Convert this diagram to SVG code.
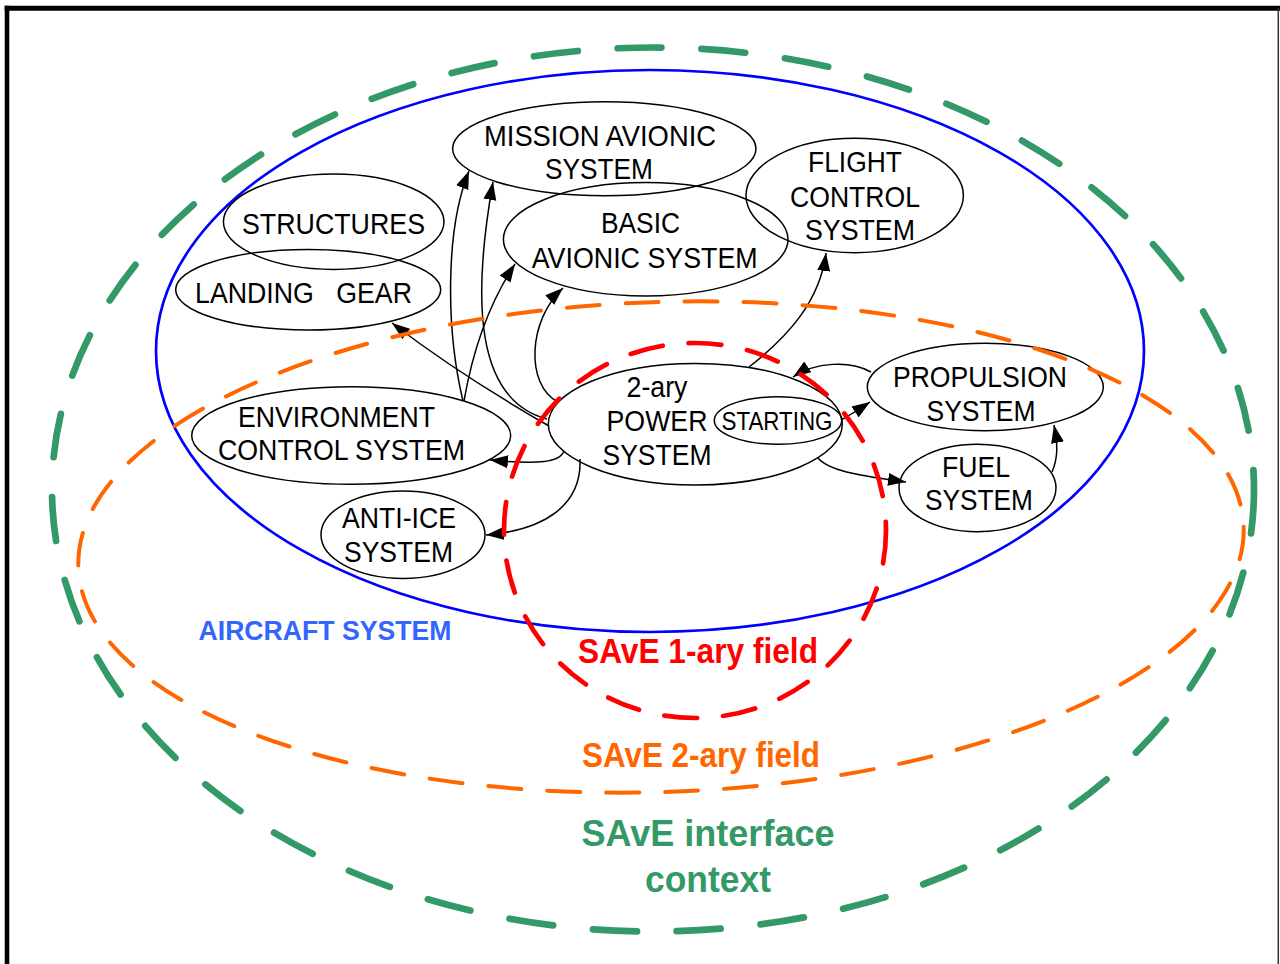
<svg xmlns="http://www.w3.org/2000/svg" width="1280" height="964" viewBox="0 0 1280 964">
<defs>
<style>
.node{fill:none;stroke:#000;stroke-width:1.5}
.t{font-family:"Liberation Sans",Arial,sans-serif;font-size:29px;fill:#000;text-anchor:middle}
.ts{font-size:25.5px}
.lbl{font-family:"Liberation Sans",Arial,sans-serif;font-weight:bold;text-anchor:middle}
.conn path{fill:none;stroke:#000;stroke-width:1.5;marker-end:url(#arr)}
.region{fill:none;stroke-linecap:round}
</style>
<marker id="arr" markerUnits="userSpaceOnUse" markerWidth="19" markerHeight="14" refX="18" refY="6.5" orient="auto">
<path d="M0,0 L18,6.5 L0,13 z" fill="#000"/>
</marker>
</defs>
<rect width="1280" height="964" fill="#fff"/>
<g id="frame" stroke-linecap="butt">
<line x1="4.7" y1="8.2" x2="1280" y2="8.2" stroke="#000" stroke-width="5"/>
<line x1="7" y1="5.7" x2="7" y2="964" stroke="#000" stroke-width="4.6"/>
<line x1="1278.3" y1="8" x2="1278.3" y2="964" stroke="#333" stroke-width="1.5"/>
</g>
<g id="aircraft-system">
<ellipse cx="650" cy="351" rx="494" ry="281" fill="none" stroke="#0000ff" stroke-width="2.7"/>
<text class="lbl" x="325" y="640" font-size="27" fill="#3366ff" textLength="253" lengthAdjust="spacingAndGlyphs">AIRCRAFT SYSTEM</text>
</g>
<g id="mission-avionic">
<ellipse class="node" cx="604.3" cy="148.7" rx="151.7" ry="47"/>
<text class="t" x="600" y="146" textLength="232" lengthAdjust="spacingAndGlyphs">MISSION AVIONIC</text>
<text class="t" x="599" y="179" textLength="108" lengthAdjust="spacingAndGlyphs">SYSTEM</text>
</g>
<g id="basic-avionic">
<ellipse class="node" cx="645.7" cy="239.3" rx="142.3" ry="56.7"/>
<text class="t" x="640.5" y="233" textLength="79" lengthAdjust="spacingAndGlyphs">BASIC</text>
<text class="t" x="644.7" y="268" textLength="226" lengthAdjust="spacingAndGlyphs">AVIONIC SYSTEM</text>
</g>
<g id="flight-control">
<ellipse class="node" cx="854.7" cy="195.5" rx="108.7" ry="57.2"/>
<text class="t" x="855" y="172" textLength="94" lengthAdjust="spacingAndGlyphs">FLIGHT</text>
<text class="t" x="855" y="207" textLength="130" lengthAdjust="spacingAndGlyphs">CONTROL</text>
<text class="t" x="860" y="240" textLength="110" lengthAdjust="spacingAndGlyphs">SYSTEM</text>
</g>
<g id="structures">
<ellipse class="node" cx="333.7" cy="221.7" rx="110.3" ry="47.7"/>
<text class="t" x="333.5" y="234" textLength="183" lengthAdjust="spacingAndGlyphs">STRUCTURES</text>
</g>
<g id="landing-gear">
<ellipse class="node" cx="308.2" cy="289.7" rx="132.5" ry="40.3"/>
<text class="t" x="303.5" y="303" textLength="217" lengthAdjust="spacingAndGlyphs" xml:space="preserve">LANDING   GEAR</text>
</g>
<g id="environment-control">
<ellipse class="node" cx="351.2" cy="435.5" rx="159.5" ry="48.8"/>
<text class="t" x="336.5" y="427" textLength="197" lengthAdjust="spacingAndGlyphs">ENVIRONMENT</text>
<text class="t" x="341.5" y="460" textLength="247" lengthAdjust="spacingAndGlyphs">CONTROL SYSTEM</text>
</g>
<g id="anti-ice">
<ellipse class="node" cx="403" cy="534.7" rx="82" ry="43.7"/>
<text class="t" x="399" y="528" textLength="114" lengthAdjust="spacingAndGlyphs">ANTI-ICE</text>
<text class="t" x="398.5" y="562" textLength="109" lengthAdjust="spacingAndGlyphs">SYSTEM</text>
</g>
<g id="power-system">
<ellipse class="node" cx="695.3" cy="424.2" rx="147" ry="60.8"/>
<text class="t" x="657" y="397" textLength="61" lengthAdjust="spacingAndGlyphs">2-ary</text>
<text class="t" x="657" y="431" textLength="101" lengthAdjust="spacingAndGlyphs">POWER</text>
<text class="t" x="657" y="465" textLength="109" lengthAdjust="spacingAndGlyphs">SYSTEM</text>
</g>
<g id="starting">
<ellipse class="node" cx="778" cy="420.5" rx="63.7" ry="23.8"/>
<text class="t ts" x="777" y="430" textLength="111" lengthAdjust="spacingAndGlyphs">STARTING</text>
</g>
<g id="propulsion">
<ellipse class="node" cx="985.3" cy="387" rx="118" ry="43.7"/>
<text class="t" x="980" y="387" textLength="174" lengthAdjust="spacingAndGlyphs">PROPULSION</text>
<text class="t" x="981" y="421" textLength="109" lengthAdjust="spacingAndGlyphs">SYSTEM</text>
</g>
<g id="fuel">
<ellipse class="node" cx="977.5" cy="488" rx="78.5" ry="43.7"/>
<text class="t" x="976" y="477" textLength="68" lengthAdjust="spacingAndGlyphs">FUEL</text>
<text class="t" x="979" y="510" textLength="108" lengthAdjust="spacingAndGlyphs">SYSTEM</text>
</g>
<g id="connectors" class="conn">
<path d="M549,426 Q460,375 392,323"/>
<path d="M463,401 C446,330 445,230 469,171"/>
<path d="M464,401 Q478,320 515,264"/>
<path d="M547,419 C475,400 472,300 493,182"/>
<path d="M558,402 C525,385 528,320 563,288"/>
<path d="M749,367 C790,335 820,300 826,253"/>
<path d="M871,372 C850,360 815,362 793,377"/>
<path d="M841,420 Q852,414 870,402"/>
<path d="M818,458 C830,472 865,476 906,482"/>
<path d="M1052,472 C1058,458 1058,445 1054,425"/>
<path d="M564,451 C560,462 540,465 490,460"/>
<path d="M580,459 C582,505 545,530 486,535"/>
</g>
<g id="save-2ary-field">
<ellipse class="region" cx="661" cy="547" rx="583" ry="245" transform="rotate(-2 661 547)" stroke="#ff6600" stroke-width="4" stroke-dasharray="33 26"/>
<text class="lbl" x="701" y="767" font-size="35" fill="#ff6600" textLength="238" lengthAdjust="spacingAndGlyphs">SAvE 2-ary field</text>
</g>
<g id="save-1ary-field">
<ellipse class="region" cx="695" cy="530.5" rx="191" ry="187.5" stroke="#ff0000" stroke-width="4.7" stroke-dasharray="33 26"/>
<text class="lbl" x="698" y="663" font-size="34.5" fill="#ff0000" textLength="240" lengthAdjust="spacingAndGlyphs">SAvE 1-ary field</text>
</g>
<g id="save-interface-context">
<ellipse class="region" cx="653" cy="489.5" rx="601" ry="442" stroke="#339966" stroke-width="6.7" stroke-dasharray="44 40"/>
<text class="lbl" x="708" y="846" font-size="37.5" fill="#339966" textLength="253" lengthAdjust="spacingAndGlyphs">SAvE interface</text>
<text class="lbl" x="708" y="892" font-size="37.5" fill="#339966" textLength="126" lengthAdjust="spacingAndGlyphs">context</text>
</g>
</svg>
